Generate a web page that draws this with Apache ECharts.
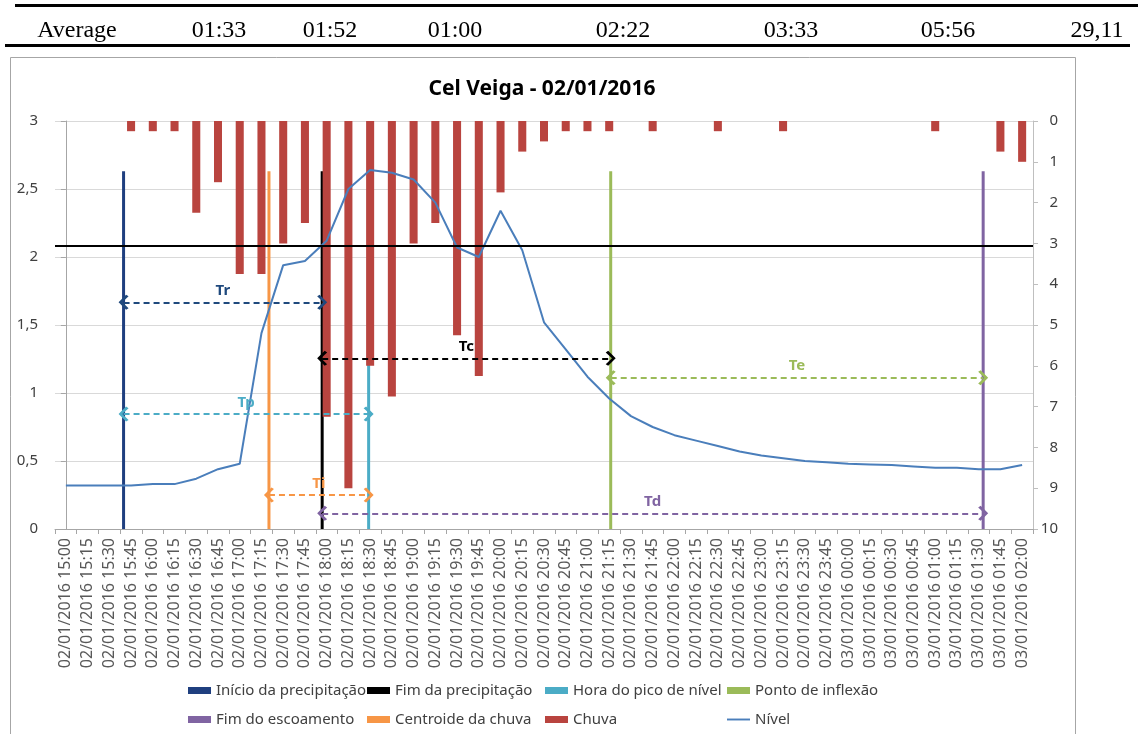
<!DOCTYPE html>
<html><head><meta charset="utf-8">
<script src="https://cdn.jsdelivr.net/npm/echarts@6/dist/echarts.min.js"></script>
<style>html,body{margin:0;padding:0;background:#fff}#c{width:1138px;height:734px}</style>
</head><body><div id="c"></div>
<script>
// ---------- data ----------
const categories = [
 '02/01/2016 15:00','02/01/2016 15:15','02/01/2016 15:30','02/01/2016 15:45',
 '02/01/2016 16:00','02/01/2016 16:15','02/01/2016 16:30','02/01/2016 16:45',
 '02/01/2016 17:00','02/01/2016 17:15','02/01/2016 17:30','02/01/2016 17:45',
 '02/01/2016 18:00','02/01/2016 18:15','02/01/2016 18:30','02/01/2016 18:45',
 '02/01/2016 19:00','02/01/2016 19:15','02/01/2016 19:30','02/01/2016 19:45',
 '02/01/2016 20:00','02/01/2016 20:15','02/01/2016 20:30','02/01/2016 20:45',
 '02/01/2016 21:00','02/01/2016 21:15','02/01/2016 21:30','02/01/2016 21:45',
 '02/01/2016 22:00','02/01/2016 22:15','02/01/2016 22:30','02/01/2016 22:45',
 '02/01/2016 23:00','02/01/2016 23:15','02/01/2016 23:30','02/01/2016 23:45',
 '03/01/2016 00:00','03/01/2016 00:15','03/01/2016 00:30','03/01/2016 00:45',
 '03/01/2016 01:00','03/01/2016 01:15','03/01/2016 01:30','03/01/2016 01:45',
 '03/01/2016 02:00'
];
const chuva = [0,0,0,0.25,0.25,0.25,2.25,1.5,3.75,3.75,3.0,2.5,7.25,9.0,6.0,6.75,3.0,2.5,5.25,6.25,
 1.75,0.75,0.5,0.25,0.25,0.25,0,0.25,0,0,0.25,0,0,0.25,0,0,0,0,0,0,0.25,0,0,0.75,1.0];
const nivel = [0.32,0.32,0.32,0.32,0.33,0.33,0.37,0.44,0.48,1.44,1.94,1.97,2.12,2.50,2.64,2.62,2.57,2.40,2.07,2.00,
 2.34,2.05,1.52,1.32,1.12,0.96,0.83,0.75,0.69,0.65,0.61,0.57,0.54,0.52,0.50,0.49,0.48,0.475,0.47,0.46,
 0.45,0.45,0.44,0.44,0.47];
const eventNames = ['Início da precipitação','Fim da precipitação','Hora do pico de nível','Ponto de inflexão','Fim do escoamento','Centroide da chuva'];
const eventTimes = ['02/01/2016 15:45','02/01/2016 18:00','02/01/2016 18:30','02/01/2016 21:15','03/01/2016 01:30','02/01/2016 17:15'];
const eventHeight = 2.63;
const limiar = 2.08;
const intervalLabels = ['Tr','Tp','Tc','Te','Ti','Td'];
const intervalFrom = [0,0,1,3,5,1];
const intervalTo   = [1,2,3,4,2,4];
const intervalLevel = [1.667,0.845,1.255,1.113,0.25,0.115];
const tableRow = ['Average','01:33','01:52','01:00','02:22','03:33','05:56','29,11'];

// ---------- styles ----------
const eventColors = ['#1f3f7f','#000000','#4bacc6','#9bbb59','#8064a2','#f79646'];
const intervalColors = ['#1f497d','#4bacc6','#000000','#9bbb59','#f79646','#8064a2'];
const chuvaColor = '#b9443f';
const nivelColor = '#4a7ebb';
const tableX = [77,219,330,455,623,791,948,1097];
const FONT = 'Noto Sans';
const BAR_FRAC = 0.138;
const chevron = 'path://M0,0L12,9L9.5,12L0,4.5L-9.5,12L-12,9Z';

const chart = echarts.init(document.getElementById('c'));

const eventSeries = eventNames.map((n, k) => ({
  type: 'bar', name: n, xAxisIndex: 0, yAxisIndex: 0,
  barWidth: (BAR_FRAC * 100) + '%', barGap: '0%',
  itemStyle: { color: eventColors[k] },
  data: categories.map(c => c === eventTimes[k] ? eventHeight : null),
  z: 2
}));

function eventX(k) { return categories.indexOf(eventTimes[k]) + (k - 2.5) * BAR_FRAC; }

const arrowLines = intervalLabels.map((lab, i) => [
  { coord: [eventX(intervalFrom[i]), intervalLevel[i]],
    lineStyle: { color: intervalColors[i], type: [6, 4], width: 2 },
    itemStyle: { color: intervalColors[i] },
    label: { show: true, formatter: lab, position: 'middle', color: intervalColors[i],
      fontFamily: FONT, fontWeight: 'bold', fontSize: 15, distance: 4 } },
  { coord: [eventX(intervalTo[i]), intervalLevel[i]] }
]);

const legendCommon = {
  orient: 'vertical', top: 683, itemWidth: 23, itemHeight: 7, itemGap: 14, padding: 0,
  icon: 'rect', selectedMode: false,
  textStyle: { fontFamily: FONT, fontSize: 15, color: '#404040', lineHeight: 14 }
};

chart.setOption({
  animation: false,
  backgroundColor: '#fff',
  textStyle: { fontFamily: FONT },
  graphic: [
    { type: 'rect', shape: { x: 10.5, y: 57.5, width: 1065, height: 700 },
      style: { fill: 'none', stroke: '#a6a6a6', lineWidth: 1 }, silent: true, z: -10 },
    { type: 'rect', shape: { x: 15, y: 4, width: 1123, height: 3 }, style: { fill: '#000' }, silent: true },
    { type: 'rect', shape: { x: 5, y: 44, width: 1125, height: 3 }, style: { fill: '#000' }, silent: true },
    ...tableRow.map((t, i) => ({ type: 'text', x: tableX[i], y: 31, silent: true,
      style: { text: t, font: '24px "Liberation Serif"', fill: '#000', textAlign: 'center', textVerticalAlign: 'middle' } })),
    { type: 'text', x: 542, y: 89, silent: true,
      style: { text: 'Cel Veiga - 02/01/2016', font: 'bold 21px "Noto Sans"', fill: '#000', textAlign: 'center', textVerticalAlign: 'middle' } }
  ],
  legend: [
    Object.assign({ left: 188, data: ['Início da precipitação', 'Fim do escoamento'] }, legendCommon),
    Object.assign({ left: 367, data: ['Fim da precipitação', 'Centroide da chuva'] }, legendCommon),
    Object.assign({ left: 545, data: ['Hora do pico de nível', 'Chuva'] }, legendCommon),
    Object.assign({ left: 727, data: ['Ponto de inflexão', { name: 'Nível', icon: 'path://M0,0H24V2H0Z' }] }, legendCommon)
  ],
  grid: { left: 55, right: 105, top: 121, bottom: 205, containLabel: false },
  xAxis: [
    { type: 'category', data: categories, boundaryGap: true,
      axisLine: { show: true, lineStyle: { color: '#a6a6a6', width: 1 } },
      axisTick: { show: true, length: 5, alignWithLabel: false, lineStyle: { color: '#a6a6a6' } },
      axisLabel: { interval: 0, rotate: 90, fontSize: 16, color: '#595959', margin: 9, fontFamily: FONT },
      splitLine: { show: false } },
    { type: 'category', data: categories, show: false, boundaryGap: true },
    { type: 'value', min: -0.5, max: 44.5, show: false }
  ],
  yAxis: [
    { type: 'value', min: 0, max: 3, interval: 0.5, position: 'left',
      axisLine: { show: true, lineStyle: { color: '#a6a6a6' } },
      axisTick: { show: true, length: 5, lineStyle: { color: '#a6a6a6' } },
      axisLabel: { fontSize: 15, color: '#404040', margin: 17, fontFamily: FONT,
        formatter: v => String(v).replace('.', ',') },
      splitLine: { show: true, lineStyle: { color: '#d9d9d9', width: 1 } } },
    { type: 'value', min: 0, max: 10, interval: 1, inverse: true, position: 'right',
      axisLine: { show: true, lineStyle: { color: '#bfbfbf' } },
      axisTick: { show: true, length: 5, lineStyle: { color: '#bfbfbf' } },
      axisLabel: { fontSize: 15, color: '#404040', align: 'right', margin: 25, fontFamily: FONT },
      splitLine: { show: false } }
  ],
  series: [
    ...eventSeries,
    { type: 'bar', name: 'Chuva', xAxisIndex: 1, yAxisIndex: 1, barWidth: '37%',
      itemStyle: { color: chuvaColor }, data: chuva, z: 3 },
    { type: 'line', name: 'Nível', xAxisIndex: 0, yAxisIndex: 0, data: nivel,
      symbol: 'none', showSymbol: false, smooth: false,
      lineStyle: { color: nivelColor, width: 2 }, itemStyle: { color: nivelColor }, z: 4,
      markLine: { silent: true, symbol: 'none', animation: false,
        lineStyle: { color: '#000', width: 2, type: 'solid' }, label: { show: false },
        data: [{ yAxis: limiar }] } },
    { type: 'line', name: 'intervalos', xAxisIndex: 2, yAxisIndex: 0, data: [], z: 5,
      markLine: { silent: true, animation: false, symbol: [chevron, chevron], symbolSize: [15, 10],
        data: arrowLines } }
  ]
});
</script></body></html>
